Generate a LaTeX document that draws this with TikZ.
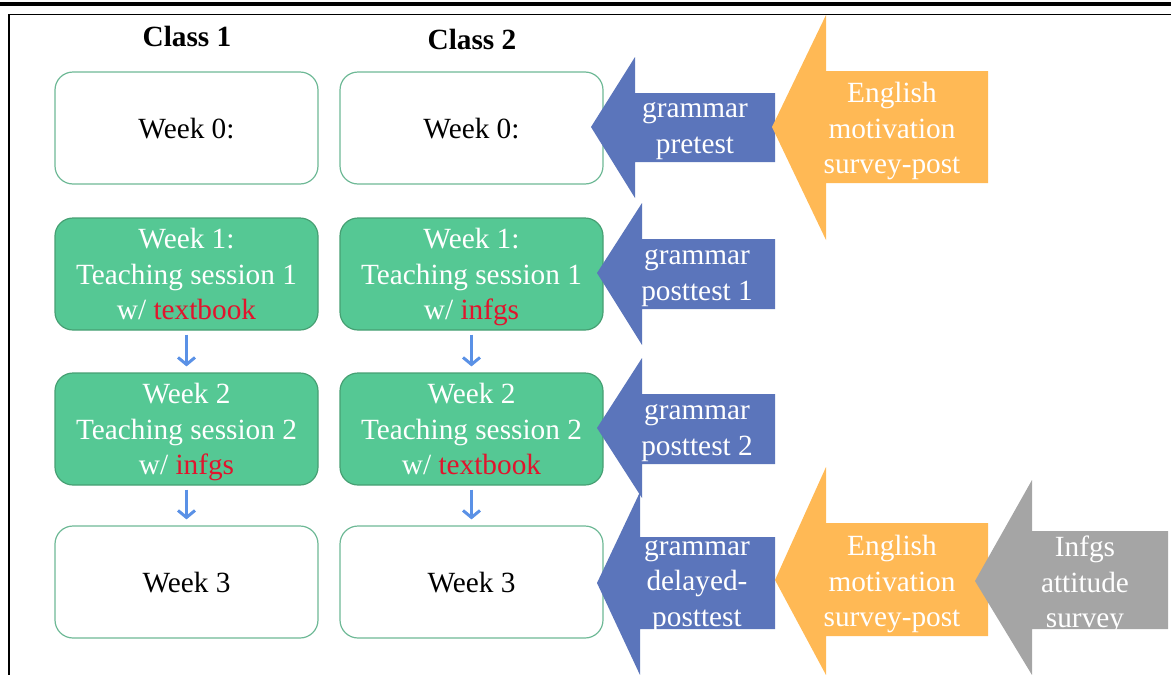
\documentclass[tikz,border=0pt]{standalone}
\usepackage{fontspec}
\setmainfont{Liberation Serif}
\usepackage{xcolor}
\usetikzlibrary{positioning,arrows.meta}

\definecolor{testblue}{RGB}{91,117,187}
\definecolor{surveyorange}{RGB}{255,185,85}
\definecolor{attgray}{RGB}{165,165,165}
\definecolor{weekgreen}{RGB}{85,200,148}
\definecolor{weekborder}{RGB}{70,160,115}
\definecolor{weekline}{RGB}{110,185,150}
\definecolor{matred}{RGB}{225,20,45}
\definecolor{flowblue}{RGB}{90,145,230}

\begin{document}
\begin{tikzpicture}[x=1pt,y=-1pt,
  every node/.style={font=\fontsize{29.3}{35.5}\selectfont,
    execute at begin node=\strut,execute at end node=\strut},
  week/.style={draw=weekline,line width=1.2pt,rounded corners=18pt,fill=white,
    minimum width=263pt,minimum height=112pt,align=center,inner sep=0pt,text depth=4pt},
  session/.style={week,draw=weekborder,fill=weekgreen,text=white,text depth=-1pt},
  head/.style={font=\fontsize{29.3}{35.5}\selectfont\bfseries},
  lbl/.style={text=white,align=center,inner sep=0pt,text depth=-3pt},
  flow/.style={draw=flowblue,line width=3pt,-{Straight Barb[length=7pt,width=17pt]},
    shorten <=4pt,shorten >=6pt}]

\useasboundingbox (0,0) rectangle (1171,675);
\draw[line width=4pt] (0,4) -- (1171,4);
\draw[line width=1.5pt] (1171,14.5) -- (9,14.5) -- (9,675);


\node[head] (class1) at (187,39) {Class 1};
\node[head] (class2) at (472,42) {Class 2};


\node[week] (c1w0) at (186.5,128) {Week 0:};
\node[session] (c1w1) at (186.5,274) {Week 1:\\Teaching session 1\\w/ \textcolor{matred}{textbook}};
\node[session] (c1w2) at (186.5,429) {Week 2\\Teaching session 2\\w/ \textcolor{matred}{infgs}};
\node[week] (c1w3) at (186.5,582) {Week 3};

\node[week] (c2w0) at (471.5,128) {Week 0:};
\node[session] (c2w1) at (471.5,274) {Week 1:\\Teaching session 1\\w/ \textcolor{matred}{infgs}};
\node[session] (c2w2) at (471.5,429) {Week 2\\Teaching session 2\\w/ \textcolor{matred}{textbook}};
\node[week] (c2w3) at (471.5,582) {Week 3};


\draw[flow] (c1w1) -- (c1w2);
\draw[flow] (c1w2) -- (c1w3);
\draw[flow] (c2w1) -- (c2w2);
\draw[flow] (c2w2) -- (c2w3);


\fill[testblue] (591,127) -- (635,57) -- (635,93) -- (775,93) -- (775,162) -- (635,162) -- (635,198) -- cycle;
\fill[testblue] (597,273) -- (642,203) -- (642,239) -- (775,239) -- (775,309) -- (642,309) -- (642,345) -- cycle;
\fill[testblue] (597,428) -- (642,358) -- (642,394) -- (775,394) -- (775,464) -- (642,464) -- (642,498) -- cycle;
\fill[testblue] (597,583) -- (640,492) -- (640,537) -- (775,537) -- (775,629) -- (640,629) -- (640,675) -- cycle;

\fill[surveyorange] (772,127) -- (826,15) -- (826,71) -- (988,71) -- (988,183) -- (826,183) -- (826,240) -- cycle;
\fill[surveyorange] (775,580) -- (826,467) -- (826,523) -- (988,523) -- (988,636) -- (826,636) -- (826,675) -- cycle;

\fill[attgray] (975,581) -- (1032,480) -- (1032,531) -- (1168,531) -- (1168,629) -- (1032,629) -- (1032,675) -- cycle;


\node[lbl] (pretest) at (695,128) {grammar\\pretest};
\node[lbl] (post1) at (697,275) {grammar\\posttest 1};
\node[lbl] (post2) at (697,430) {grammar\\posttest 2};
\node[lbl] (delayed) at (697,583) {grammar\\delayed-\\posttest};

\node[lbl] (motpre) at (892,128) {English\\motivation\\survey-post};
\node[lbl] (motpost) at (892,581) {English\\motivation\\survey-post};
\node[lbl] (attitude) at (1085,582) {Infgs\\attitude\\survey};

\end{tikzpicture}
\end{document}
